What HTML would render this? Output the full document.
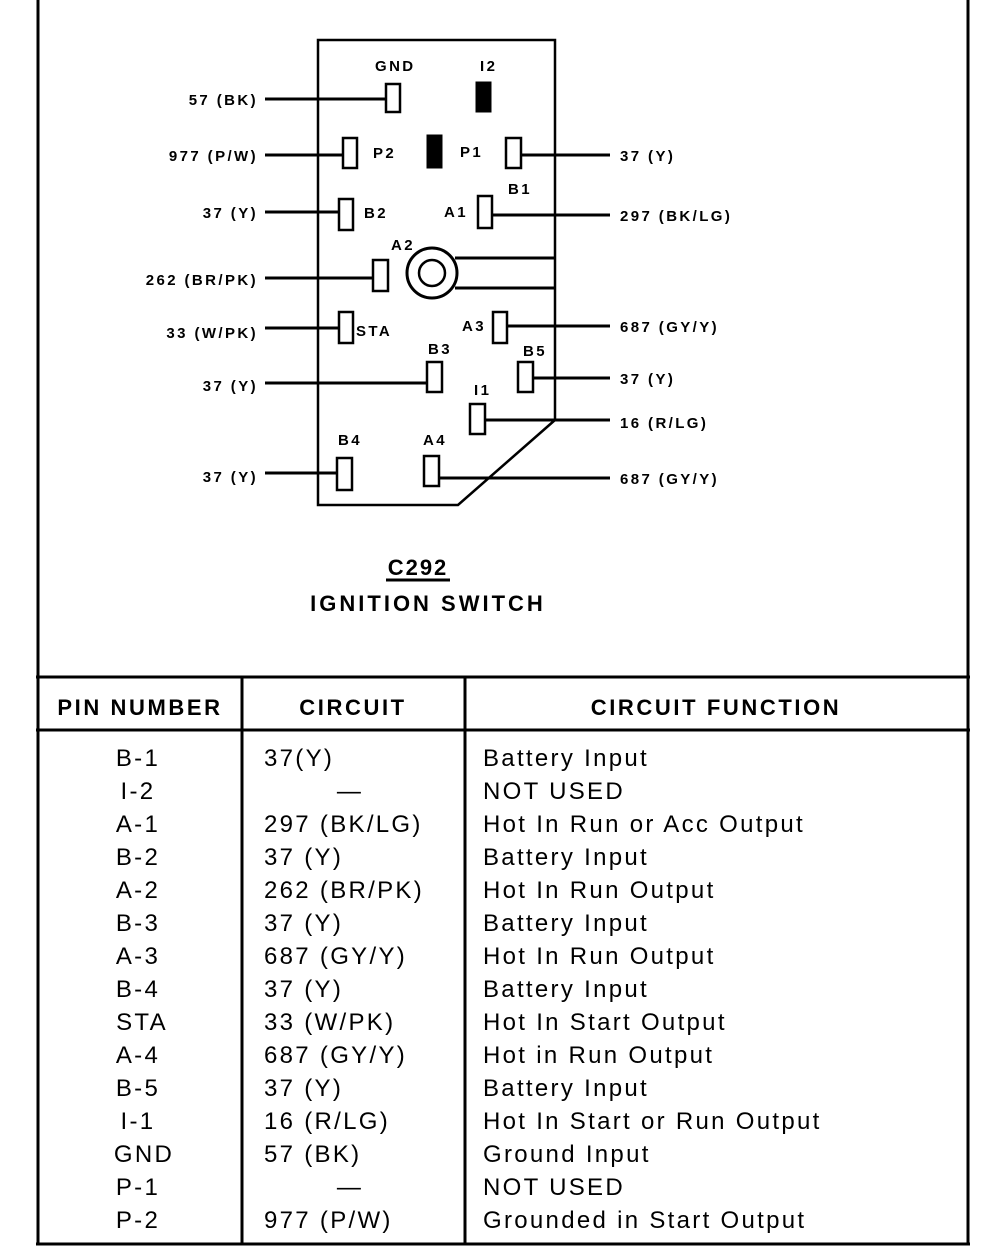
<!DOCTYPE html>
<html><head><style>
html,body{margin:0;padding:0;background:#fff;}
svg{display:block;}
text{font-family:"Liberation Sans",sans-serif;fill:#000;}
.s{font-size:15px;font-weight:bold;letter-spacing:2.4px;}
.t{font-size:24px;letter-spacing:2.3px;}
</style></head><body>
<svg width="992" height="1246" viewBox="0 0 992 1246" xmlns="http://www.w3.org/2000/svg">
<g stroke="#000" fill="none">
<line x1="38" y1="0" x2="38" y2="1245" stroke-width="3"/>
<line x1="968" y1="0" x2="968" y2="1245" stroke-width="3"/>
<line x1="36" y1="677" x2="970" y2="677" stroke-width="3"/>
<line x1="36" y1="730" x2="970" y2="730" stroke-width="3"/>
<line x1="36" y1="1244" x2="970" y2="1244" stroke-width="3"/>
<line x1="242" y1="677" x2="242" y2="1244" stroke-width="3"/>
<line x1="465" y1="677" x2="465" y2="1244" stroke-width="3"/>
<path d="M318 505 L318 40 L555 40 L555 420 L458 505 Z" stroke-width="2.5"/>
<g stroke-width="3">
<line x1="265" y1="99" x2="386" y2="99"/>
<line x1="265" y1="155" x2="343" y2="155"/>
<line x1="521" y1="155" x2="610" y2="155"/>
<line x1="265" y1="212" x2="339" y2="212"/>
<line x1="492" y1="215" x2="610" y2="215"/>
<line x1="265" y1="278" x2="373" y2="278"/>
<line x1="265" y1="328" x2="339" y2="328"/>
<line x1="507" y1="326" x2="610" y2="326"/>
<line x1="265" y1="383" x2="427" y2="383"/>
<line x1="533" y1="378" x2="610" y2="378"/>
<line x1="485" y1="420" x2="610" y2="420"/>
<line x1="265" y1="473" x2="337" y2="473"/>
<line x1="439" y1="478" x2="610" y2="478"/>
<line x1="455" y1="258" x2="555" y2="258"/>
<line x1="455" y1="288" x2="555" y2="288"/>
</g>
<g stroke-width="2.5" fill="#fff">
<rect x="386" y="84" width="14" height="28"/>
<rect x="343" y="138" width="14" height="30"/>
<rect x="506" y="138" width="15" height="30"/>
<rect x="339" y="199" width="14" height="31"/>
<rect x="478" y="196" width="14" height="32"/>
<rect x="373" y="260" width="15" height="31"/>
<rect x="339" y="312" width="14" height="31"/>
<rect x="493" y="312" width="14" height="31"/>
<rect x="427" y="362" width="15" height="30"/>
<rect x="518" y="362" width="15" height="30"/>
<rect x="470" y="404" width="15" height="30"/>
<rect x="337" y="458" width="15" height="32"/>
<rect x="424" y="456" width="15" height="30"/>
<circle cx="432" cy="273" r="25" stroke-width="3"/>
<circle cx="432" cy="273" r="13"/>
</g>
<rect x="476" y="82" width="15" height="30" fill="#000"/>
<rect x="427" y="135" width="15" height="33" fill="#000"/>
<line x1="386" y1="580" x2="450" y2="580" stroke-width="3"/>
</g>
<g class="s">
<text x="258" y="105" text-anchor="end">57 (BK)</text>
<text x="258" y="161" text-anchor="end">977 (P/W)</text>
<text x="258" y="218" text-anchor="end">37 (Y)</text>
<text x="258" y="285" text-anchor="end">262 (BR/PK)</text>
<text x="258" y="338" text-anchor="end">33 (W/PK)</text>
<text x="258" y="391" text-anchor="end">37 (Y)</text>
<text x="258" y="482" text-anchor="end">37 (Y)</text>
<text x="620" y="161">37 (Y)</text>
<text x="620" y="221">297 (BK/LG)</text>
<text x="620" y="332">687 (GY/Y)</text>
<text x="620" y="384">37 (Y)</text>
<text x="620" y="428">16 (R/LG)</text>
<text x="620" y="484">687 (GY/Y)</text>
<text x="375" y="71">GND</text>
<text x="480" y="71">I2</text>
<text x="373" y="158">P2</text>
<text x="460" y="157">P1</text>
<text x="508" y="194">B1</text>
<text x="444" y="217">A1</text>
<text x="364" y="218">B2</text>
<text x="391" y="250">A2</text>
<text x="356" y="336">STA</text>
<text x="462" y="331">A3</text>
<text x="428" y="354">B3</text>
<text x="523" y="356">B5</text>
<text x="474" y="395">I1</text>
<text x="338" y="445">B4</text>
<text x="423" y="445">A4</text>
</g>
<text x="418" y="575" text-anchor="middle" style="font-size:22px;font-weight:bold;letter-spacing:2px">C292</text>
<text x="428" y="611" text-anchor="middle" style="font-size:22px;font-weight:bold;letter-spacing:3px">IGNITION SWITCH</text>
<g style="font-size:22px;font-weight:bold;letter-spacing:2.6px">
<text x="140" y="715" text-anchor="middle">PIN NUMBER</text>
<text x="353" y="715" text-anchor="middle">CIRCUIT</text>
<text x="716" y="715" text-anchor="middle">CIRCUIT FUNCTION</text>
</g>
<g class="t">
<text x="138" y="766" text-anchor="middle">B-1</text>
<text x="138" y="799" text-anchor="middle">I-2</text>
<text x="138" y="832" text-anchor="middle">A-1</text>
<text x="138" y="865" text-anchor="middle">B-2</text>
<text x="138" y="898" text-anchor="middle">A-2</text>
<text x="138" y="931" text-anchor="middle">B-3</text>
<text x="138" y="964" text-anchor="middle">A-3</text>
<text x="138" y="997" text-anchor="middle">B-4</text>
<text x="142" y="1030" text-anchor="middle">STA</text>
<text x="138" y="1063" text-anchor="middle">A-4</text>
<text x="138" y="1096" text-anchor="middle">B-5</text>
<text x="138" y="1129" text-anchor="middle">I-1</text>
<text x="144" y="1162" text-anchor="middle">GND</text>
<text x="138" y="1195" text-anchor="middle">P-1</text>
<text x="138" y="1228" text-anchor="middle">P-2</text>
<text x="264" y="766">37(Y)</text>
<text x="350" y="799" text-anchor="middle">—</text>
<text x="264" y="832">297 (BK/LG)</text>
<text x="264" y="865">37 (Y)</text>
<text x="264" y="898">262 (BR/PK)</text>
<text x="264" y="931">37 (Y)</text>
<text x="264" y="964">687 (GY/Y)</text>
<text x="264" y="997">37 (Y)</text>
<text x="264" y="1030">33 (W/PK)</text>
<text x="264" y="1063">687 (GY/Y)</text>
<text x="264" y="1096">37 (Y)</text>
<text x="264" y="1129">16 (R/LG)</text>
<text x="264" y="1162">57 (BK)</text>
<text x="350" y="1195" text-anchor="middle">—</text>
<text x="264" y="1228">977 (P/W)</text>
<text x="483" y="766">Battery Input</text>
<text x="483" y="799">NOT USED</text>
<text x="483" y="832">Hot In Run or Acc Output</text>
<text x="483" y="865">Battery Input</text>
<text x="483" y="898">Hot In Run Output</text>
<text x="483" y="931">Battery Input</text>
<text x="483" y="964">Hot In Run Output</text>
<text x="483" y="997">Battery Input</text>
<text x="483" y="1030">Hot In Start Output</text>
<text x="483" y="1063">Hot in Run Output</text>
<text x="483" y="1096">Battery Input</text>
<text x="483" y="1129">Hot In Start or Run Output</text>
<text x="483" y="1162">Ground Input</text>
<text x="483" y="1195">NOT USED</text>
<text x="483" y="1228">Grounded in Start Output</text>
</g>
</svg>
</body></html>
